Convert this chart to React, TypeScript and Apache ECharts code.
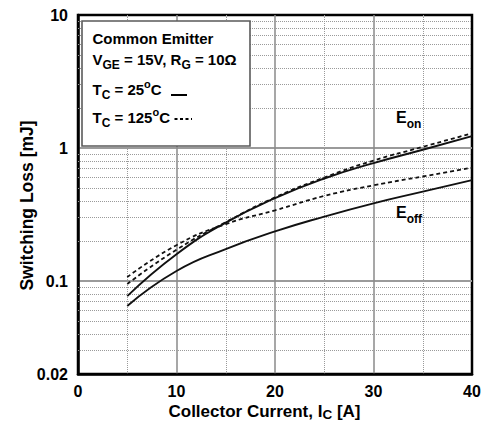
import React, { useEffect, useRef } from 'react';
import * as echarts from 'echarts';

// Collector current [A]
const currents = [5, 10, 15, 20, 25, 30, 35, 40];
// Switching loss [mJ]
const eon25 = [0.077, 0.159, 0.275, 0.42, 0.59, 0.77, 0.97, 1.23];
const eoff25 = [0.065, 0.119, 0.174, 0.236, 0.305, 0.384, 0.47, 0.574];
const eon125 = [0.095, 0.172, 0.277, 0.425, 0.6, 0.805, 1.02, 1.29];
const eoff125 = [0.107, 0.186, 0.268, 0.34, 0.436, 0.524, 0.611, 0.711];

// Axis settings
const xMin = 0;
const xMax = 40;
const xStep = 10;
const yMin = 0.02;
const yMax = 10;
const yMinorGrid = [
  0.03, 0.04, 0.05, 0.06, 0.07, 0.08, 0.09,
  0.2, 0.3, 0.4, 0.5, 0.6, 0.7, 0.8, 0.9,
  2, 3, 4, 5, 6, 7, 8, 9,
];

const FONT = "'Liberation Sans', Arial, Helvetica, sans-serif";

const pairs = (ys: number[]) => currents.map((x, i) => [x, ys[i]]);

const mainTok = (size: number) => ({
  fontSize: size,
  fontWeight: 'bold',
  fontFamily: FONT,
  fill: '#000',
  color: '#000',
});
const subTok = (size: number, pad: number) => ({
  fontSize: size,
  fontWeight: 'bold',
  fontFamily: FONT,
  fill: '#000',
  color: '#000',
  height: size,
  padding: [pad, 0, 0, 0],
});
const supTok = (size: number, pad: number) => ({
  fontSize: size,
  fontWeight: 'bold',
  fontFamily: FONT,
  fill: '#000',
  color: '#000',
  height: size,
  padding: [0, 0, pad, 0],
});

const legendRich = {
  m: mainTok(15),
  s: subTok(12, 11),
  o: supTok(11, 10),
};

const richText = (x: number, y: number, text: string, rich: any, align = 'left', rotation = 0) => ({
  type: 'text',
  x,
  y,
  rotation,
  z: 110,
  silent: true,
  style: {
    text,
    rich,
    fill: '#000',
    align,
    verticalAlign: 'middle',
    textAlign: align,
    textVerticalAlign: 'middle',
  },
});

export default function App() {
  const ref = useRef<HTMLDivElement>(null);

  useEffect(() => {
    if (!ref.current) return;
    const chart = echarts.init(ref.current, undefined, { renderer: 'svg' });

    const curveSeries = (name: string, ys: number[], dashed: boolean) => ({
      name,
      type: 'line',
      data: pairs(ys),
      smooth: true,
      showSymbol: false,
      symbol: 'none',
      z: 5,
      lineStyle: {
        color: '#111',
        width: dashed ? 1.8 : 1.9,
        type: dashed ? [4, 3] : 'solid',
      },
    });

    const option: any = {
      animation: false,
      backgroundColor: '#fff',
      grid: {
        left: 78,
        top: 15,
        width: 394,
        height: 359,
        show: true,
        borderColor: '#000',
        borderWidth: 2.5,
        backgroundColor: 'transparent',
        containLabel: false,
        outerBoundsMode: 'none',
      },
      xAxis: {
        type: 'value',
        min: xMin,
        max: xMax,
        interval: xStep,
        axisLine: { show: true, lineStyle: { color: '#000', width: 2.5 } },
        axisTick: { show: false },
        axisLabel: {
          color: '#000',
          fontSize: 16,
          fontWeight: 'bold',
          fontFamily: FONT,
          margin: 9,
          showMinLabel: true,
          showMaxLabel: true,
        },
        splitLine: {
          show: true,
          showMinLine: false,
          showMaxLine: false,
          lineStyle: { color: '#8a8a8a', width: 1.5 },
        },
        minorTick: { show: false, splitNumber: 2 },
        minorSplitLine: {
          show: true,
          lineStyle: { color: '#9a9a9a', width: 1, type: 'dotted' },
        },
      },
      yAxis: {
        type: 'log',
        logBase: 10,
        min: yMin,
        max: yMax,
        axisLine: { show: true, lineStyle: { color: '#000', width: 2.5 } },
        axisTick: { show: false },
        axisLabel: {
          color: '#000',
          fontSize: 16,
          fontWeight: 'bold',
          fontFamily: FONT,
          margin: 10,
          showMinLabel: true,
          showMaxLabel: true,
        },
        splitLine: {
          show: true,
          showMinLine: false,
          showMaxLine: false,
          lineStyle: { color: '#9a9a9a', width: 1.8 },
        },
        minorTick: { show: false },
        minorSplitLine: { show: false },
      },
      series: [
        {
          name: 'grid',
          type: 'line',
          data: [],
          z: 1,
          silent: true,
          markLine: {
            silent: true,
            symbol: ['none', 'none'],
            label: { show: false },
            animation: false,
            lineStyle: { color: '#9a9a9a', width: 1, type: 'dotted' },
            data: yMinorGrid.map((v) => ({ yAxis: v })),
          },
        },
        curveSeries('Eon 25°C', eon25, false),
        curveSeries('Eoff 25°C', eoff25, false),
        curveSeries('Eon 125°C', eon125, true),
        curveSeries('Eoff 125°C', eoff125, true),
      ],
      graphic: [
        {
          type: 'rect',
          z: 100,
          silent: true,
          shape: { x: 82, y: 21, width: 168, height: 125 },
          style: { fill: '#fff', stroke: '#5a5a5a', lineWidth: 1.6 },
        },
        richText(92.5, 38.7, '{m|Common Emitter}', legendRich),
        richText(92.5, 59.7, '{m|V}{s|GE}{m| = 15V, R}{s|G}{m| = 10Ω}', legendRich),
        richText(92.5, 89, '{m|T}{s|C}{m| = 25}{o|o}{m|C}', legendRich),
        richText(92.5, 117, '{m|T}{s|C}{m| = 125}{o|o}{m|C}', legendRich),
        {
          type: 'line',
          z: 110,
          silent: true,
          shape: { x1: 171, y1: 95, x2: 187, y2: 95 },
          style: { stroke: '#000', lineWidth: 2 },
        },
        {
          type: 'line',
          z: 110,
          silent: true,
          shape: { x1: 174.5, y1: 119, x2: 192, y2: 119 },
          style: { stroke: '#000', lineWidth: 2, lineDash: [3, 2.5] },
        },
        richText(396, 117.7, '{m|E}{s|on}', { m: mainTok(16), s: subTok(12, 13) }),
        richText(396, 212.7, '{m|E}{s|off}', { m: mainTok(16), s: subTok(12, 13) }),
        // axis titles
        richText(264.5, 411.7, '{m|Collector Current, I}{s|C}{m| [A]}', { m: mainTok(17), s: subTok(13.5, 6) }, 'center'),
        richText(26.7, 205.5, '{m|Switching Loss [mJ]}', { m: mainTok(17.5) }, 'center', Math.PI / 2),
      ],
    };

    chart.setOption(option);
    return () => chart.dispose();
  }, []);

  return (
    <div
      ref={ref}
      style={{ position: 'absolute', left: 0, top: 0, width: 492, height: 430, background: '#fff' }}
    />
  );
}
